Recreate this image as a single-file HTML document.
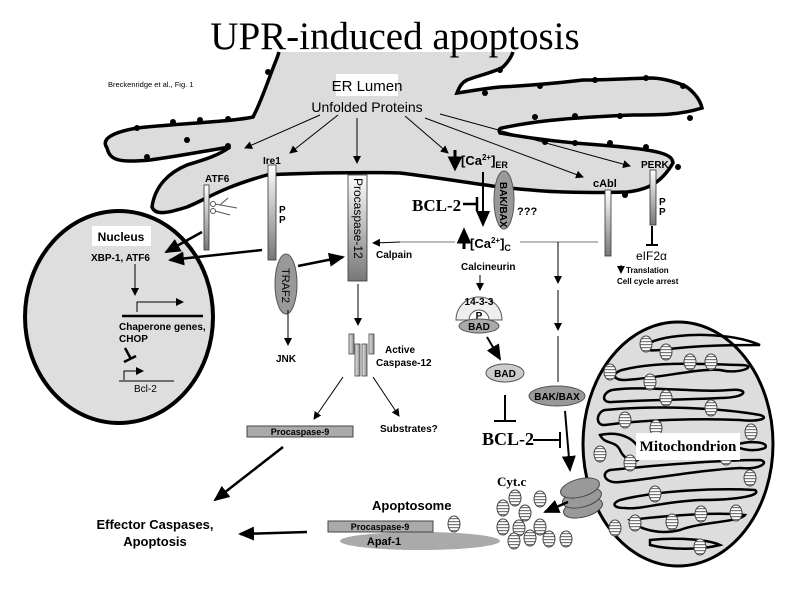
<!DOCTYPE html>
<html><head><meta charset="utf-8"><style>
html,body{margin:0;padding:0;background:#fff;}
svg{display:block;}
text{font-family:"Liberation Sans",sans-serif;}
.b{font-weight:bold;}
.t{font-family:"Liberation Serif",serif;font-weight:bold;}
</style></head><body>
<svg width="800" height="600" viewBox="0 0 800 600" xmlns="http://www.w3.org/2000/svg">
<defs>
<marker id="a" markerWidth="8" markerHeight="8" refX="7" refY="4" orient="auto" markerUnits="userSpaceOnUse"><path d="M0,0 L8,4 L0,8 z" fill="#000"/></marker>
<marker id="A" markerWidth="16" markerHeight="14" refX="14" refY="7" orient="auto" markerUnits="userSpaceOnUse"><path d="M0,0 L16,7 L0,14 z" fill="#000"/></marker>
<pattern id="st" width="4" height="3" patternUnits="userSpaceOnUse"><rect width="4" height="3" fill="#fff"/><rect width="4" height="1.2" fill="#777"/></pattern>
<linearGradient id="g" x1="0" y1="0" x2="0" y2="1"><stop offset="0" stop-color="#fff"/><stop offset="1" stop-color="#777"/></linearGradient>
<linearGradient id="gh" x1="0" y1="0" x2="1" y2="0"><stop offset="0" stop-color="#eee"/><stop offset="1" stop-color="#888"/></linearGradient>
<g id="c"><ellipse cx="0" cy="0" rx="6" ry="8" fill="url(#st)" stroke="#444" stroke-width="1"/></g>
</defs>

<!-- ER -->
<path d="M277,58 C268,80 262,100 253,117 C230,122 170,124 137,128 C115,132 100,138 107,148 C110,160 118,163 150,160 C180,156 210,150 230,147 C215,158 195,162 187,165 C170,172 155,185 152,207 C155,215 165,214 187,207 C205,200 220,188 267,175 C300,173 360,172 400,173 C440,178 470,183 500,187 C530,190 560,194 627,192 C645,190 660,185 673,163 C672,155 665,150 600,145 C570,143 540,140 500,133 C498,130 500,128 502,128 C530,122 560,118 633,115 C660,115 680,115 702,108 C700,98 690,88 683,85 C670,80 660,78 650,78 C620,79 600,80 583,80 C550,84 520,86 500,87 C480,89 465,92 457,93 C460,85 463,82 467,80 C480,75 495,72 503,67 C508,62 511,58 513,52 L277,52 Z" fill="#dcdcdc"/>
<path d="M279,52 L277,58 C268,80 262,100 253,117 C230,122 170,124 137,128 C115,132 100,138 107,148 C110,160 118,163 150,160 C180,156 210,150 230,147 C215,158 195,162 187,165 C170,172 155,185 152,207 C155,215 165,214 187,207 C205,200 220,188 267,175 C300,173 360,172 400,173 C440,178 470,183 500,187 C530,190 560,194 627,192 C645,190 660,185 673,163 C672,155 665,150 600,145 C570,143 540,140 500,133 C498,130 500,128 502,128 C530,122 560,118 633,115 C660,115 680,115 702,108 C700,98 690,88 683,85 C670,80 660,78 650,78 C620,79 600,80 583,80 C550,84 520,86 500,87 C480,89 465,92 457,93 C460,85 463,82 467,80 C480,75 495,72 503,67 C508,62 511,58 513,52" fill="none" stroke="#000" stroke-width="3.5"/>
<g fill="#000">
<circle cx="137" cy="128" r="3"/><circle cx="173" cy="122" r="3"/><circle cx="200" cy="120" r="3"/><circle cx="228" cy="119" r="3"/><circle cx="268" cy="72" r="3"/>
<circle cx="187" cy="140" r="3"/><circle cx="228" cy="146" r="3"/><circle cx="147" cy="157" r="3"/>
<circle cx="485" cy="93" r="3"/><circle cx="540" cy="86" r="3"/><circle cx="595" cy="80" r="3"/><circle cx="646" cy="78" r="3"/><circle cx="683" cy="86" r="3"/><circle cx="500" cy="70" r="3"/>
<circle cx="535" cy="117" r="3"/><circle cx="575" cy="116" r="3"/><circle cx="620" cy="116" r="3"/><circle cx="690" cy="118" r="3"/>
<circle cx="545" cy="142" r="3"/><circle cx="575" cy="143" r="3"/><circle cx="610" cy="143" r="3"/><circle cx="646" cy="147" r="3"/><circle cx="678" cy="167" r="3"/><circle cx="625" cy="195" r="3"/>
</g>

<text x="395" y="49" text-anchor="middle" style="font-family:'Liberation Serif',serif;font-size:39px">UPR-induced apoptosis</text>
<text x="108" y="87" font-size="7.5">Breckenridge et al., Fig. 1</text>

<rect x="336" y="74" width="62" height="22" fill="#fff"/>
<text x="367" y="91" font-size="15" text-anchor="middle">ER Lumen</text>
<text x="367" y="112" font-size="14" text-anchor="middle">Unfolded Proteins</text>

<g stroke="#000" stroke-width="1" fill="none" marker-end="url(#a)">
<line x1="320" y1="115" x2="245" y2="148"/>
<line x1="338" y1="115" x2="290" y2="153"/>
<line x1="357" y1="118" x2="357" y2="163"/>
<line x1="405" y1="116" x2="448" y2="153"/>
<line x1="425" y1="118" x2="583" y2="177"/>
<line x1="440" y1="114" x2="630" y2="166"/>
</g>

<!-- Nucleus -->
<ellipse cx="119" cy="317" rx="94" ry="106" fill="#dedede" stroke="#000" stroke-width="4"/>
<rect x="92" y="226" width="59" height="20" fill="#fff"/>
<text x="121" y="241" font-size="12" class="b" text-anchor="middle">Nucleus</text>
<text x="91" y="261" font-size="10" class="b">XBP-1, ATF6</text>
<line x1="135" y1="264" x2="135" y2="295" stroke="#000" stroke-width="1" marker-end="url(#a)"/>
<path d="M137,312 L137,302 L183,302" stroke="#000" stroke-width="1" fill="none" marker-end="url(#a)"/>
<line x1="122" y1="316" x2="203" y2="316" stroke="#000" stroke-width="2.5"/>
<text x="119" y="330" font-size="10" class="b">Chaperone genes,</text>
<text x="119" y="342" font-size="10" class="b">CHOP</text>
<line x1="125" y1="348" x2="131" y2="359" stroke="#000" stroke-width="2.5"/><line x1="124" y1="362" x2="136" y2="356" stroke="#000" stroke-width="2.5"/>
<path d="M124,380 L124,371 L143,371" stroke="#000" stroke-width="1" fill="none" marker-end="url(#a)"/>
<line x1="119" y1="381" x2="174" y2="381" stroke="#000" stroke-width="1"/>
<text x="134" y="392" font-size="10">Bcl-2</text>

<!-- ATF6 / Ire1 -->
<text x="205" y="182" font-size="10" class="b">ATF6</text>
<rect x="204" y="185" width="5" height="65" fill="url(#g)" stroke="#333" stroke-width="0.8"/>
<g stroke="#555" stroke-width="1" fill="none"><circle cx="213" cy="204" r="2.5"/><circle cx="213" cy="211" r="2.5"/><line x1="215" y1="204" x2="237" y2="208"/><line x1="215" y1="211" x2="230" y2="215"/><line x1="220" y1="205" x2="228" y2="198"/></g>
<text x="263" y="164" font-size="10" class="b">Ire1</text>
<rect x="268" y="165" width="8" height="95" fill="url(#g)" stroke="#333" stroke-width="0.8"/>
<text x="279" y="213" font-size="10" class="b">P</text><text x="279" y="223" font-size="10" class="b">P</text>

<rect x="348" y="175" width="19" height="106" fill="url(#g)" stroke="#333" stroke-width="0.8"/>
<text transform="translate(354,178) rotate(90)" font-size="12">Procaspase-12</text>

<ellipse cx="286" cy="284" rx="11" ry="30" fill="#999" stroke="#555"/>
<text transform="translate(282,268) rotate(90)" font-size="11">TRAF2</text>

<g stroke="#000" stroke-width="2.5" fill="none" marker-end="url(#A)">
<line x1="202" y1="232" x2="166" y2="252"/>
<line x1="262" y1="250" x2="170" y2="260"/>
<line x1="298" y1="266" x2="343" y2="257"/>
</g>

<!-- Ca -->
<path d="M455,150 L455,163 M450,158 L455,168 L460,158 z" stroke="#000" stroke-width="3" fill="#000"/>
<text x="461" y="165" font-size="13" class="b">[Ca<tspan font-size="8" dy="-5">2+</tspan><tspan dy="5">]</tspan><tspan font-size="9" dy="3">ER</tspan></text>
<line x1="483" y1="172" x2="483" y2="225" stroke="#000" stroke-width="2" marker-end="url(#A)"/>
<ellipse cx="504" cy="200" rx="10" ry="29" fill="#999" stroke="#555"/>
<text transform="translate(500,182) rotate(90)" font-size="10" class="b">BAK/BAX</text>
<text x="517" y="215" font-size="11" class="b">???</text>
<text x="412" y="211" font-size="17" class="t">BCL-2</text>
<line x1="463" y1="204" x2="477" y2="204" stroke="#000" stroke-width="2.5"/><line x1="477" y1="197" x2="477" y2="211" stroke="#000" stroke-width="2.5"/>
<path d="M464,249 L464,236 M459,242 L464,231 L469,242 z" stroke="#000" stroke-width="3" fill="#000"/>
<text x="470" y="248" font-size="13" class="b">[Ca<tspan font-size="8" dy="-5">2+</tspan><tspan dy="5">]</tspan><tspan font-size="9" dy="3">C</tspan></text>
<line x1="520" y1="242" x2="598" y2="242" stroke="#777" stroke-width="1"/>
<line x1="455" y1="242" x2="400" y2="242" stroke="#777" stroke-width="1"/>
<line x1="400" y1="242" x2="373" y2="243" stroke="#000" stroke-width="1" marker-end="url(#a)"/>
<text x="376" y="258" font-size="10" class="b">Calpain</text>
<line x1="558" y1="242" x2="558" y2="283" stroke="#000" stroke-width="1" marker-end="url(#a)"/>
<line x1="558" y1="290" x2="558" y2="330" stroke="#000" stroke-width="1" marker-end="url(#a)"/>
<line x1="558" y1="336" x2="558" y2="382" stroke="#000" stroke-width="1"/>

<!-- cAbl / PERK -->
<text x="593" y="187" font-size="11" class="b">cAbl</text>
<rect x="605" y="190" width="6" height="66" fill="url(#g)" stroke="#333" stroke-width="0.8"/>
<text x="641" y="168" font-size="10" class="b">PERK</text>
<rect x="650" y="170" width="6" height="55" fill="url(#g)" stroke="#333" stroke-width="0.8"/>
<text x="659" y="205" font-size="10" class="b">P</text><text x="659" y="215" font-size="10" class="b">P</text>
<line x1="652" y1="226" x2="652" y2="244" stroke="#000" stroke-width="2"/><line x1="646" y1="245" x2="658" y2="245" stroke="#000" stroke-width="2"/>
<text x="636" y="260" font-size="12">eIF2α</text>
<line x1="621" y1="265" x2="621" y2="273" stroke="#000" stroke-width="1" marker-end="url(#a)"/>
<text x="626" y="273" font-size="8" class="b">Translation</text>
<text x="617" y="284" font-size="8" class="b">Cell cycle arrest</text>

<!-- Calcineurin / BAD -->
<text x="461" y="270" font-size="10" class="b">Calcineurin</text>
<line x1="480" y1="275" x2="480" y2="290" stroke="#000" stroke-width="1" marker-end="url(#a)"/>
<path d="M456,320 A23,23 0 0 1 502,320 Z" fill="#eee" stroke="#555"/>
<path d="M469,320 A10,10 0 0 1 489,320 Z" fill="#fff" stroke="#555"/>
<text x="479" y="305" font-size="10" class="b" text-anchor="middle">14-3-3</text>
<text x="479" y="319" font-size="10" class="b" text-anchor="middle">P</text>
<ellipse cx="479" cy="326" rx="20" ry="7" fill="#aaa" stroke="#555"/>
<text x="479" y="330" font-size="10" class="b" text-anchor="middle">BAD</text>
<line x1="487" y1="337" x2="500" y2="359" stroke="#000" stroke-width="2" marker-end="url(#A)"/>
<ellipse cx="505" cy="373" rx="19" ry="9" fill="#ccc" stroke="#555"/>
<text x="505" y="377" font-size="10" class="b" text-anchor="middle">BAD</text>
<line x1="505" y1="395" x2="505" y2="421" stroke="#000" stroke-width="2"/><line x1="494" y1="421" x2="516" y2="421" stroke="#000" stroke-width="2"/>
<text x="482" y="445" font-size="18" class="t">BCL-2</text>
<line x1="533" y1="440" x2="559" y2="440" stroke="#000" stroke-width="2"/><line x1="560" y1="432" x2="560" y2="448" stroke="#000" stroke-width="2"/>
<ellipse cx="557" cy="396" rx="28" ry="10" fill="#999" stroke="#555"/>
<text x="557" y="400" font-size="10" class="b" text-anchor="middle">BAK/BAX</text>
<line x1="565" y1="411" x2="570" y2="470" stroke="#000" stroke-width="2" marker-end="url(#A)"/>

<!-- Mitochondrion -->
<ellipse cx="678" cy="444" rx="95" ry="122" fill="#ddd" stroke="#000" stroke-width="3"/>
<g fill="none" stroke="#000" stroke-width="2.5">
<path d="M657,340 C680,333 730,332 760,345 C735,345 700,345 660,350 C640,352 640,345 657,340 Z"/>
<path d="M622,370 C660,360 720,365 740,365 C760,365 740,375 720,370 C700,368 660,378 625,380 C612,380 612,373 622,370 Z"/>
<path d="M612,390 C640,385 700,393 730,390 C750,388 748,398 720,398 C680,400 640,400 612,402 C600,403 603,392 612,390 Z"/>
<path d="M605,410 C660,405 720,408 760,415 C770,418 760,422 740,420 C700,418 640,420 605,425 C595,426 596,412 605,410 Z"/>
<path d="M600,435 C620,430 640,440 640,455 C640,465 625,462 620,450 C615,440 605,445 600,435 Z"/>
<path d="M735,445 C750,440 770,442 765,448 C755,452 740,450 735,445 Z"/>
<path d="M610,470 C660,465 720,460 760,460 C770,462 760,470 740,468 C700,470 660,478 620,482 C605,484 600,473 610,470 Z"/>
<path d="M620,500 C660,490 720,488 755,490 C762,495 740,500 700,500 C660,502 640,510 625,508 C612,508 612,503 620,500 Z"/>
<path d="M630,520 C670,515 720,512 745,515 C740,522 700,522 680,530 C660,535 640,530 630,520 Z"/>
<path d="M650,540 C680,537 710,540 720,545 C700,550 670,550 650,545 Z"/>
</g>
<g>
<use href="#c" x="646" y="344"/><use href="#c" x="666" y="352"/><use href="#c" x="690" y="362"/><use href="#c" x="711" y="362"/>
<use href="#c" x="610" y="372"/><use href="#c" x="650" y="382"/><use href="#c" x="666" y="398"/><use href="#c" x="711" y="408"/>
<use href="#c" x="625" y="420"/><use href="#c" x="656" y="428"/><use href="#c" x="751" y="432"/><use href="#c" x="600" y="454"/>
<use href="#c" x="630" y="463"/><use href="#c" x="726" y="457"/><use href="#c" x="750" y="478"/><use href="#c" x="655" y="494"/>
<use href="#c" x="615" y="528"/><use href="#c" x="635" y="523"/><use href="#c" x="672" y="522"/><use href="#c" x="701" y="514"/>
<use href="#c" x="736" y="513"/><use href="#c" x="700" y="547"/>
</g>
<rect x="636" y="433" width="104" height="27" fill="#fff"/>
<text x="688" y="451" font-size="15" class="t" text-anchor="middle">Mitochondrion</text>

<!-- channel -->
<g fill="#999" stroke="#444" stroke-width="1">
<ellipse cx="583" cy="508" rx="20" ry="9" transform="rotate(-15 583 508)"/>
<ellipse cx="582" cy="498" rx="20" ry="9" transform="rotate(-15 582 498)"/>
<ellipse cx="580" cy="488" rx="20" ry="9" transform="rotate(-15 580 488)"/>
</g>
<line x1="568" y1="502" x2="545" y2="512" stroke="#000" stroke-width="2.5" marker-end="url(#A)"/>
<text x="497" y="486" font-size="13" class="t">Cyt.c</text>
<g>
<use href="#c" x="515" y="498"/><use href="#c" x="540" y="499"/><use href="#c" x="503" y="508"/><use href="#c" x="525" y="513"/>
<use href="#c" x="503" y="527"/><use href="#c" x="519" y="528"/><use href="#c" x="540" y="527"/><use href="#c" x="514" y="541"/>
<use href="#c" x="530" y="538"/><use href="#c" x="549" y="539"/><use href="#c" x="566" y="539"/><use href="#c" x="454" y="524"/>
</g>

<!-- Left lower -->
<line x1="288" y1="310" x2="288" y2="345" stroke="#000" stroke-width="1" marker-end="url(#a)"/>
<text x="276" y="362" font-size="10" class="b">JNK</text>
<line x1="358" y1="284" x2="358" y2="325" stroke="#000" stroke-width="1" marker-end="url(#a)"/>
<g fill="url(#gh)" stroke="#444" stroke-width="0.8">
<rect x="349" y="334" width="5" height="20"/><rect x="369" y="334" width="5" height="20"/>
<rect x="355" y="344" width="5" height="32"/><rect x="362" y="344" width="5" height="32"/>
</g>
<text x="385" y="353" font-size="10" class="b">Active</text>
<text x="376" y="366" font-size="10" class="b">Caspase-12</text>
<line x1="343" y1="377" x2="314" y2="419" stroke="#000" stroke-width="1" marker-end="url(#a)"/>
<line x1="373" y1="377" x2="399" y2="416" stroke="#000" stroke-width="1" marker-end="url(#a)"/>
<rect x="247" y="426" width="106" height="11" fill="#aaa" stroke="#444"/>
<text x="300" y="435" font-size="9" class="b" text-anchor="middle">Procaspase-9</text>
<text x="380" y="432" font-size="10" class="b">Substrates?</text>
<line x1="283" y1="447" x2="215" y2="500" stroke="#000" stroke-width="2.5" marker-end="url(#A)"/>
<text x="155" y="529" font-size="13" class="b" text-anchor="middle">Effector Caspases,</text>
<text x="155" y="546" font-size="13" class="b" text-anchor="middle">Apoptosis</text>
<line x1="307" y1="532" x2="240" y2="534" stroke="#000" stroke-width="2.5" marker-end="url(#A)"/>
<text x="372" y="510" font-size="13" class="b">Apoptosome</text>
<ellipse cx="420" cy="541" rx="80" ry="9" fill="#aaa"/>
<rect x="328" y="521" width="105" height="11" fill="#aaa" stroke="#444"/>
<text x="380" y="530" font-size="9" class="b" text-anchor="middle">Procaspase-9</text>
<text x="384" y="545" font-size="11" class="b" text-anchor="middle">Apaf-1</text>
</svg>
</body></html>
